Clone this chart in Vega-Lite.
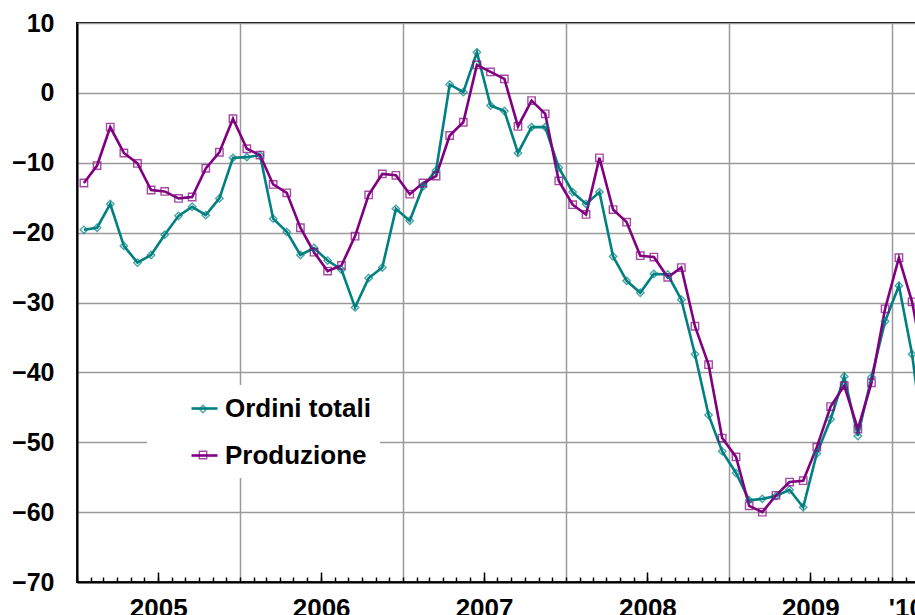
{
  "$schema": "https://vega.github.io/schema/vega-lite/v6.json",
  "autosize": {"type": "none"},
  "width": 840,
  "height": 559,
  "padding": {"left": 77, "top": 23, "right": -2, "bottom": 33},
  "background": "white",
  "config": {
    "view": {"stroke": "black", "strokeWidth": 2},
    "font": "Liberation Sans",
    "axis": {"labelFont": "Liberation Sans", "labelFontWeight": "bold", "labelColor": "black", "title": null}
  },
  "data": {"values": [
    {"month": "2005-01", "Ordini totali": -19.6, "Produzione": -12.9},
    {"month": "2005-02", "Ordini totali": -19.3, "Produzione": -10.4},
    {"month": "2005-03", "Ordini totali": -15.9, "Produzione": -4.9},
    {"month": "2005-04", "Ordini totali": -21.9, "Produzione": -8.6},
    {"month": "2005-05", "Ordini totali": -24.3, "Produzione": -10.1},
    {"month": "2005-06", "Ordini totali": -23.2, "Produzione": -13.9},
    {"month": "2005-07", "Ordini totali": -20.3, "Produzione": -14.1},
    {"month": "2005-08", "Ordini totali": -17.6, "Produzione": -15.1},
    {"month": "2005-09", "Ordini totali": -16.3, "Produzione": -14.9},
    {"month": "2005-10", "Ordini totali": -17.5, "Produzione": -10.8},
    {"month": "2005-11", "Ordini totali": -15.1, "Produzione": -8.5},
    {"month": "2005-12", "Ordini totali": -9.3, "Produzione": -3.7},
    {"month": "2006-01", "Ordini totali": -9.2, "Produzione": -8.0},
    {"month": "2006-02", "Ordini totali": -8.9, "Produzione": -8.9},
    {"month": "2006-03", "Ordini totali": -18.0, "Produzione": -13.1},
    {"month": "2006-04", "Ordini totali": -19.9, "Produzione": -14.3},
    {"month": "2006-05", "Ordini totali": -23.2, "Produzione": -19.3},
    {"month": "2006-06", "Ordini totali": -22.2, "Produzione": -22.8},
    {"month": "2006-07", "Ordini totali": -24.0, "Produzione": -25.5},
    {"month": "2006-08", "Ordini totali": -25.3, "Produzione": -24.7},
    {"month": "2006-09", "Ordini totali": -30.7, "Produzione": -20.5},
    {"month": "2006-10", "Ordini totali": -26.5, "Produzione": -14.6},
    {"month": "2006-11", "Ordini totali": -25.0, "Produzione": -11.6},
    {"month": "2006-12", "Ordini totali": -16.6, "Produzione": -11.8},
    {"month": "2007-01", "Ordini totali": -18.3, "Produzione": -14.5},
    {"month": "2007-02", "Ordini totali": -13.4, "Produzione": -12.9},
    {"month": "2007-03", "Ordini totali": -11.1, "Produzione": -11.9},
    {"month": "2007-04", "Ordini totali": 1.2, "Produzione": -6.1},
    {"month": "2007-05", "Ordini totali": 0.1, "Produzione": -4.2},
    {"month": "2007-06", "Ordini totali": 5.8, "Produzione": 4.0},
    {"month": "2007-07", "Ordini totali": -1.8, "Produzione": 3.0},
    {"month": "2007-08", "Ordini totali": -2.6, "Produzione": 2.0},
    {"month": "2007-09", "Ordini totali": -8.6, "Produzione": -4.8},
    {"month": "2007-10", "Ordini totali": -4.9, "Produzione": -1.1},
    {"month": "2007-11", "Ordini totali": -4.9, "Produzione": -3.0},
    {"month": "2007-12", "Ordini totali": -10.7, "Produzione": -12.6},
    {"month": "2008-01", "Ordini totali": -14.2, "Produzione": -16.0},
    {"month": "2008-02", "Ordini totali": -15.9, "Produzione": -17.4},
    {"month": "2008-03", "Ordini totali": -14.2, "Produzione": -9.3},
    {"month": "2008-04", "Ordini totali": -23.4, "Produzione": -16.7},
    {"month": "2008-05", "Ordini totali": -26.9, "Produzione": -18.5},
    {"month": "2008-06", "Ordini totali": -28.6, "Produzione": -23.3},
    {"month": "2008-07", "Ordini totali": -25.9, "Produzione": -23.5},
    {"month": "2008-08", "Ordini totali": -26.0, "Produzione": -26.4},
    {"month": "2008-09", "Ordini totali": -29.6, "Produzione": -25.0},
    {"month": "2008-10", "Ordini totali": -37.4, "Produzione": -33.4},
    {"month": "2008-11", "Ordini totali": -46.1, "Produzione": -38.9},
    {"month": "2008-12", "Ordini totali": -51.3, "Produzione": -49.4},
    {"month": "2009-01", "Ordini totali": -54.4, "Produzione": -52.1},
    {"month": "2009-02", "Ordini totali": -58.3, "Produzione": -59.1},
    {"month": "2009-03", "Ordini totali": -58.1, "Produzione": -60.0},
    {"month": "2009-04", "Ordini totali": -57.7, "Produzione": -57.6},
    {"month": "2009-05", "Ordini totali": -56.8, "Produzione": -55.7},
    {"month": "2009-06", "Ordini totali": -59.3, "Produzione": -55.5},
    {"month": "2009-07", "Ordini totali": -51.6, "Produzione": -50.7},
    {"month": "2009-08", "Ordini totali": -46.7, "Produzione": -44.9},
    {"month": "2009-09", "Ordini totali": -40.6, "Produzione": -41.9},
    {"month": "2009-10", "Ordini totali": -49.1, "Produzione": -48.1},
    {"month": "2009-11", "Ordini totali": -40.7, "Produzione": -41.5},
    {"month": "2009-12", "Ordini totali": -32.7, "Produzione": -30.9},
    {"month": "2010-01", "Ordini totali": -27.6, "Produzione": -23.6},
    {"month": "2010-02", "Ordini totali": -37.4, "Produzione": -29.9},
    {"month": "2010-03", "Ordini totali": -52.0, "Produzione": -40.0}
  ]},
  "transform": [{"fold": ["Ordini totali", "Produzione"], "as": ["series", "value"]}],
  "encoding": {
    "y": {
      "field": "value", "type": "quantitative",
      "scale": {"domain": [-70, 10], "nice": false, "zero": false},
      "axis": {
        "values": [-70, -60, -50, -40, -30, -20, -10, 0, 10],
        "domainColor": "black", "domainWidth": 2,
        "ticks": false, "labelPadding": 23, "labelFontSize": 25,
        "gridColor": "#9a9a9a", "gridWidth": 1.5
      }
    }
  },
  "layer": [
    {
      "mark": {"type": "line", "strokeWidth": 2.6, "clip": true},
      "encoding": {
        "x": {
          "field": "month", "timeUnit": "utcyearmonth", "type": "temporal", "bandPosition": 0.5,
          "scale": {"type": "utc", "domain": [{"year": 2005, "month": 1, "date": 1, "utc": true}, {"year": 2010, "month": 2, "date": 26, "utc": true}]},
          "axis": {
            "orient": "bottom",
            "tickCount": {"interval": "month", "step": 1},
            "tickSize": -5, "tickColor": "black", "tickWidth": 1.5,
            "labels": false,
            "domainColor": "black", "domainWidth": 2,
            "grid": true,
            "gridColor": {"condition": {"test": "utcmonth(datum.value) == 0", "value": "#9a9a9a"}, "value": "transparent"},
            "gridWidth": 1.5
          }
        },
        "color": {
          "field": "series", "type": "nominal",
          "scale": {"domain": ["Ordini totali", "Produzione"], "range": ["#008080", "#800080"]},
          "legend": {
            "orient": "none", "legendX": 70, "legendY": 362, "title": null,
            "symbolType": "stroke", "symbolSize": 676, "symbolStrokeWidth": 2.6,
            "padding": 9, "symbolOffset": 34, "labelOffset": 6,
            "labelFontSize": 26, "labelFontWeight": "bold", "labelFont": "Liberation Sans", "labelColor": "black",
            "labelLimit": 400, "rowPadding": 19, "fillColor": "white"
          }
        }
      }
    },
    {
      "mark": {"type": "point", "filled": false, "strokeWidth": 1.4, "size": 55, "clip": true},
      "encoding": {
        "x": {
          "field": "month", "timeUnit": "utcyearmonth", "type": "temporal", "bandPosition": 0.5,
          "scale": {"type": "utc", "domain": [{"year": 2005, "month": 1, "date": 1, "utc": true}, {"year": 2010, "month": 2, "date": 26, "utc": true}]},
          "axis": {
            "orient": "bottom",
            "values": [
              {"year": 2005, "month": 7, "date": 2, "utc": true},
              {"year": 2006, "month": 7, "date": 2, "utc": true},
              {"year": 2007, "month": 7, "date": 2, "utc": true},
              {"year": 2008, "month": 7, "date": 2, "utc": true},
              {"year": 2009, "month": 7, "date": 2, "utc": true},
              {"year": 2010, "month": 2, "date": 1, "utc": true}
            ],
            "tickSize": -10, "tickWidth": 1.5,
            "tickColor": {"condition": {"test": "utcyear(datum.value) == 2010", "value": "transparent"}, "value": "black"},
            "domain": false, "grid": false,
            "labelExpr": "utcyear(datum.value) == 2010 ? \"'10\" : utcFormat(datum.value, '%Y')",
            "labelFontSize": 26, "labelPadding": 23,
            "labelOverlap": false, "labelFlush": false, "labelBound": false
          }
        },
        "color": {
          "field": "series", "type": "nominal",
          "scale": {"domain": ["Ordini totali", "Produzione"], "range": ["#008080", "#800080"]},
          "legend": {
            "orient": "none", "legendX": 70, "legendY": 364, "title": null,
            "symbolSize": 55, "symbolStrokeWidth": 1.4,
            "padding": 9, "symbolOffset": 34, "labelOffset": 6,
            "labelFontSize": 26, "labelFontWeight": "bold", "labelFont": "Liberation Sans", "labelOpacity": 0,
            "labelLimit": 400, "rowPadding": 20
          }
        },
        "shape": {
          "field": "series", "type": "nominal",
          "scale": {"domain": ["Ordini totali", "Produzione"], "range": ["diamond", "square"]},
          "legend": {
            "orient": "none", "legendX": 70, "legendY": 364, "title": null,
            "symbolSize": 55, "symbolStrokeWidth": 1.4,
            "padding": 9, "symbolOffset": 34, "labelOffset": 6,
            "labelFontSize": 26, "labelFontWeight": "bold", "labelFont": "Liberation Sans", "labelOpacity": 0,
            "labelLimit": 400, "rowPadding": 20
          }
        }
      }
    }
  ],
  "resolve": {"axis": {"x": "independent"}, "scale": {"color": "independent", "shape": "independent"}}
}
